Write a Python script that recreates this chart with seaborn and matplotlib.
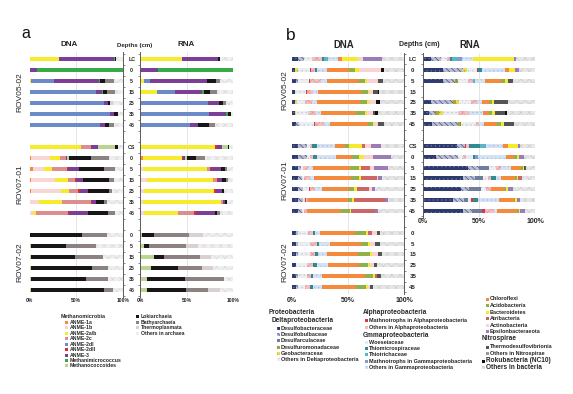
import matplotlib
matplotlib.use('Agg')
import matplotlib.pyplot as plt
from matplotlib.patches import Rectangle
import pandas as pd
import seaborn as sns

sns.set_style('white')
plt.rcParams['font.family'] = ['Liberation Sans', 'DejaVu Sans']
plt.rcParams['hatch.linewidth'] = 0.4

W, H = 573, 394

# ---------------- categories ----------------
arch_codes = ['A1a', 'A1b', 'A2ab', 'A2c', 'A2dI', 'A2dII', 'A3', 'MMC', 'MCC',
              'LOK', 'BAT', 'THP', 'OAR']
arch_names = ['ANME-1a', 'ANME-1b', 'ANME-2a/b', 'ANME-2c', 'ANME-2dI', 'ANME-2dII',
              'ANME-3', 'Methanimicrococcus', 'Methanococcoides', 'Lokiarchaeia',
              'Bathyarchaeia', 'Thermoplasmata', 'Others in archaea']

bact_codes = ['DBA', 'DBU', 'DAR', 'DUR', 'GEO', 'ODE', 'MAL', 'OAL', 'WOE', 'TMS',
              'TTR', 'MGA', 'OGA', 'CHL', 'ACI', 'BAC', 'ATR', 'ACT', 'EPS', 'THD',
              'ONI', 'ROK', 'OBA']
bact_names = ['Desulfobacteraceae', 'Desulfobulbaceae', 'Desulfarculaceae',
              'Desulfuromonadaceae', 'Geobacteraceae', 'Others in Deltaproteobacteria',
              'Mathnotrophs in Alphaproteobacteria', 'Others in Alphaproteobacteria',
              'Woeseiaceae', 'Thiomicrospiraceae', 'Thiotrichaceae',
              'Mathnotrophs in Gammaproteobacteria', 'Others in Gammaproteobacteria',
              'Chloroflexi', 'Acidobacteria', 'Bacteroidetes', 'Atribacteria',
              'Actinobacteria', 'Epsilonbacteraeota', 'Thermodesulfovibrionia',
              'Others in Nitrospirae', 'Rokubacteria (NC10)', 'Others in bacteria']

depth_rov0502 = ['LC', '0', '5', '15', '25', '35', '45']
depth_rov0701 = ['CS', '0', '5', '15', '25', '35', '45']
depth_rov0702 = ['0', '5', '15', '25', '35', '45']
site_labels = ['ROV05-02', 'ROV07-01', 'ROV07-02']
x_ticks = [0, 50, 100]
x_ticklabels = ['0%', '50%', '100%']

# ---------------- panel a: archaea (%) ----------------
arch_dna_rov0502 = [
    dict(A2ab=32, A3=58.5, MMC=0.5, LOK=1.5, OAR=7.5),
    dict(A3=8, MMC=92),
    dict(A2ab=1.5, A2dI=25, A3=48, MMC=1, LOK=5.5, BAT=9, OAR=10),
    dict(A2dI=71, A3=6.5, MMC=1, LOK=4, BAT=9, OAR=8.5),
    dict(A2dI=80, A3=3.5, LOK=3, THP=3, OAR=10.5),
    dict(A2dI=86, A3=4, LOK=4.5, OAR=5.5),
    dict(A2dI=75, A3=6, LOK=4, BAT=5, OAR=10),
]
arch_dna_rov0701 = [
    dict(A2ab=55, A2c=10.5, A3=8, MCC=18, LOK=3.5, OAR=5),
    dict(A1a=1.5, A1b=20.5, A2ab=10.5, A2c=6.5, A3=1.5, MCC=1.5, LOK=24, BAT=18.5, OAR=15.5),
    dict(A1a=3.5, A1b=11.5, A2ab=9, A2c=16, A2dII=1.5, A3=11.5, LOK=26.5, BAT=11.5, OAR=9),
    dict(A1a=1.5, A1b=26, A2ab=13.5, A2c=8, A2dII=1, A3=7, LOK=28, BAT=5.5, OAR=9.5),
    dict(A1a=1.5, A1b=32, A2ab=8.5, A2c=10, A2dII=1.5, A3=9, LOK=22, BAT=4, OAR=11.5),
    dict(A1b=10.5, A2ab=24, A2c=31, A2dII=1.5, A3=4.5, LOK=8, BAT=3, OAR=17.5),
    dict(A1b=3.5, A2ab=3.5, A2c=34, A2dII=1.5, A3=20, LOK=21.5, BAT=7, OAR=9),
]
arch_dna_rov0702 = [
    dict(LOK=56, BAT=26.5, OAR=17.5),
    dict(MCC=1.5, LOK=38, BAT=32, OAR=28.5),
    dict(MCC=1.5, LOK=47, BAT=30, OAR=21.5),
    dict(MCC=1.5, LOK=65, BAT=17, OAR=16.5),
    dict(MCC=1.5, LOK=59, BAT=23, OAR=16.5),
    dict(MCC=1.5, LOK=78.5, BAT=9, OAR=11),
]
arch_rna_rov0502 = [
    dict(A2ab=44.5, A3=39, LOK=2, OAR=14.5),
    dict(A3=19.5, MMC=80.5),
    dict(A2ab=4.5, A2dI=6, A3=61.5, LOK=9, BAT=5, OAR=14),
    dict(A2ab=18.5, A2dI=19, A3=28.5, MMC=2.5, LOK=7, BAT=6.5, OAR=18),
    dict(A2dI=73, A3=12, LOK=3.5, BAT=3.5, OAR=8),
    dict(A2dI=74, A3=18, MMC=2.5, LOK=2.5, OAR=3),
    dict(A2dI=53.5, A3=9, LOK=11, BAT=6.5, OAR=20),
]
arch_rna_rov0701 = [
    dict(A2ab=80, A2dII=2, A3=6, MCC=6.5, LOK=1, OAR=4.5),
    dict(A1a=3.5, A2ab=41, A2dII=2, A3=2, MCC=1.5, LOK=10.5, BAT=9.5, OAR=30),
    dict(A1b=3, A2ab=69, A2c=3, A2dII=1, A3=10.5, LOK=4.5, BAT=2, OAR=7),
    dict(A1a=1.5, A1b=5.5, A2ab=71.5, A2c=3.5, A2dII=1.5, A3=4.5, LOK=4.5, BAT=1.5, OAR=6),
    dict(A1b=4, A2ab=75, A2dII=2, A3=6.5, LOK=2.5, OAR=10),
    dict(A1b=3.5, A2ab=83, A2c=2, A3=2.5, LOK=2, OAR=7),
    dict(A1b=4, A2ab=37, A2c=17, A2dII=2.5, A3=19.5, LOK=2.5, BAT=3, OAR=14.5),
]
arch_rna_rov0702 = [
    dict(MCC=2, LOK=13, BAT=38, THP=15, OAR=32),
    dict(MCC=4.5, LOK=5.5, BAT=39, THP=13, OAR=38),
    dict(MCC=15, LOK=10.5, BAT=39, THP=12, OAR=23.5),
    dict(MCC=11.5, LOK=29, BAT=25.5, THP=12.5, OAR=21.5),
    dict(MCC=7, LOK=41, BAT=42, OAR=10),
    dict(MCC=8, LOK=41, BAT=24, THP=12.5, OAR=14.5),
]

# ---------------- panel b: bacteria (%) ----------------
bact_dna_rov0502 = [
    dict(DBA=5, DBU=6, ODE=6.5, OAL=9, TMS=2.5, TTR=3, OGA=9.5, CHL=3.5, BAC=14, ACT=4.5, EPS=16.5, OBA=20),
    dict(DBA=3, GEO=2, ODE=11, MAL=1, OAL=3.5, TMS=2, OGA=9, CHL=19, ACI=6, BAC=3, ACT=20, ROK=3, OBA=17.5),
    dict(DBA=3.5, DBU=2, ODE=10, MAL=1, OAL=9, OGA=6, CHL=28, ACI=6, BAC=1.5, ACT=10, THD=4, OBA=19),
    dict(DBA=2.5, ODE=10, MAL=1, OAL=5, OGA=4.5, CHL=39, ACI=6, BAC=1, ACT=3, THD=4.5, ROK=1.5, OBA=22),
    dict(DBA=3, GEO=1.5, ODE=7, OAL=6, OGA=4.5, CHL=39, ACI=6, BAC=1.5, ACT=6.5, ROK=4, OBA=21),
    dict(DBA=2.5, GEO=1.5, ODE=10, OAL=7, OGA=4.5, CHL=32, ACI=8, BAC=1.5, ACT=5, THD=2, ROK=3, OBA=23),
    dict(DBA=4, DBU=2, ODE=13.5, MAL=1, OAL=8.5, OGA=4.5, CHL=34, ACI=4.5, BAC=1.5, ACT=3, THD=6, OBA=17.5),
]
bact_dna_rov0701 = [
    dict(DBA=5, DBU=8, ODE=3, OAL=1.5, TMS=4.5, OGA=16, CHL=9.5, ACI=3, BAC=12, ATR=2.5, ACT=5.5, EPS=9, OBA=20.5),
    dict(DBA=5, DBU=8, ODE=3, OAL=3, TMS=3, OGA=17, CHL=15, ACI=6, BAC=4.5, ACT=7.5, EPS=16, OBA=12),
    dict(DBA=5, DBU=3, ODE=2, OAL=4.5, OGA=4.5, CHL=33, ACI=8, BAC=2, ATR=8, ACT=3, EPS=13, OBA=14),
    dict(DBA=5, DBU=3.5, ODE=2.5, OAL=5, OGA=4, CHL=33, ACI=6.5, BAC=2, ATR=14, ACT=1.5, EPS=3, OBA=20),
    dict(DBA=5, DBU=5, ODE=5, MAL=1, OAL=4.5, OGA=6, CHL=24, ACI=4.5, BAC=3, ATR=11, ACT=2, EPS=3, OBA=26),
    dict(DBA=5, DBU=5, ODE=1.5, MAL=1, OAL=1.5, CHL=36, ACI=3.5, BAC=1.5, ATR=28, EPS=2.5, OBA=14.5),
    dict(DBA=5, DBU=3.5, ODE=2.5, OAL=2, CHL=31, ACI=7.5, BAC=1.5, ATR=21, EPS=2.5, OBA=23.5),
]
bact_dna_rov0702 = [
    dict(DBA=4, DBU=1, ODE=9.5, OAL=4.5, TMS=1.5, OGA=4.5, CHL=31, ACI=10, BAC=2, ATR=3.5, ACT=4.5, THD=3, OBA=21),
    dict(DBA=4, DBU=1.5, ODE=11, OAL=6, TMS=1.5, OGA=9.5, CHL=28, ACI=6.5, BAC=1.5, ACT=5, THD=4, OBA=21.5),
    dict(DBA=4, DBU=1.5, ODE=10.5, OAL=4.5, TMS=2.5, OGA=8, CHL=28, ACI=10.5, BAC=1.5, ACT=6, THD=3, OBA=20),
    dict(DBA=4, ODE=9, OAL=6, TMS=3, OGA=10, CHL=28, ACI=8, BAC=1.5, ACT=3.5, THD=3, OBA=24),
    dict(DBA=4, DBU=1.5, ODE=7.5, OAL=4, TMS=2, OGA=7.5, CHL=39, ACI=7, BAC=1.5, ATR=1.5, THD=4, OBA=20.5),
    dict(DBA=4, DBU=1.5, ODE=6, OAL=4.5, TMS=3, OGA=7.5, CHL=31, ACI=9, BAC=1.5, ACT=1.5, THD=3, OBA=27.5),
]
bact_rna_rov0502 = [
    dict(DBA=7.5, DBU=9, ODE=4.5, OAL=3, TMS=2, TTR=4, MGA=4.5, OGA=10, BAC=37, EPS=1.5, OBA=17),
    dict(DBA=18, DBU=18, GEO=3, ODE=9, MAL=1.5, TMS=3, OGA=21, CHL=3, BAC=6, EPS=3, OBA=14.5),
    dict(DBA=18, DBU=11, DUR=2, ODE=9, OAL=4.5, TTR=1.5, OGA=9, CHL=15, ACI=3, BAC=2.5, THD=5, OBA=19.5),
    None,
    dict(DBA=7.5, DBU=19, DUR=3, GEO=3, ODE=10, OAL=6, OGA=4, CHL=6.5, ACI=3, BAC=1.5, THD=12, OBA=24.5),
    dict(DBA=5.5, DBU=5, DUR=4, GEO=3.5, ODE=13, OAL=10, OGA=13, CHL=4.5, ACI=3, BAC=3, THD=9, ROK=1.5, OBA=25),
    dict(DBA=8, DBU=23, DUR=3, ODE=13, OAL=3, OGA=4.5, CHL=12, ACI=3, BAC=3, THD=9, OBA=18.5),
]
bact_rna_rov0701 = [
    dict(DBA=30, DBU=7.5, MAL=1, OAL=3, TMS=9, TTR=6, OGA=15, CHL=4.5, BAC=9, EPS=1.5, OBA=13.5),
    dict(DBA=12, DBU=19, ODE=4.5, OAL=3, WOE=6, TMS=1.5, MGA=3, OGA=25, CHL=7.5, ACI=2.5, BAC=2, EPS=4.5, OBA=9.5),
    dict(DBA=40, DBU=10, DAR=9, ODE=6.5, OAL=4, OGA=9, CHL=9, ACI=1.5, BAC=1.5, THD=1.5, OBA=8),
    dict(DBA=36, DBU=10, DAR=7.5, ODE=4.5, OAL=3, TMS=4.5, OGA=4, CHL=12.5, ACI=1.5, BAC=1.5, ATR=3, OBA=12),
    dict(DBA=34, DBU=7.5, DAR=10, ODE=4.5, OAL=4.5, CHL=12, ACI=2, BAC=1.5, EPS=4, OBA=20),
    dict(DBA=27, DBU=10, DAR=3, ODE=3, MAL=2, TMS=4, OGA=19, CHL=13, ACI=1.5, BAC=1.5, EPS=3, OBA=13),
    dict(DBA=36, DBU=7.5, DAR=9, MAL=3, OAL=7.5, OGA=3, CHL=18, ACI=1.5, BAC=1.5, EPS=4.5, OBA=8.5),
]

# ---------------- styles: (face, hatch, hatch colour) ----------------
arch_styles = {
    'A1a': ('#f48a3a', None, None), 'A1b': ('#f9d6d3', None, None),
    'A2ab': ('#f6ec2c', None, None), 'A2c': ('#dc8d8d', None, None),
    'A2dI': ('#6a8bc8', None, None), 'A2dII': ('#e32b2e', None, None),
    'A3': ('#7b3f98', None, None), 'MMC': ('#38aa48', None, None),
    'MCC': ('#bad591', None, None), 'LOK': ('#171515', None, None),
    'BAT': ('#8c8282', None, None), 'THP': ('#d9d1d1', None, None),
    'OAR': ('#efefef', 'xxxx', '#d6d6d6'),
}
bact_styles = {
    'DBA': ('#2d3a6e', '....', '#6c7aa8'), 'DBU': ('#b9bed3', '\\\\\\\\\\\\', '#2d3a6e'),
    'DAR': ('#6f7d9e', None, None), 'DUR': ('#a9a63a', '||||', '#6d8a2a'),
    'GEO': ('#e9dc4e', '....', '#b3a31c'), 'ODE': ('#eceef2', '....', '#c3c8d4'),
    'MAL': ('#d9363e', None, None), 'OAL': ('#f2c0c0', 'xxxx', '#dd8f8f'),
    'WOE': ('#e2ecf7', None, None), 'TMS': ('#2f8b8f', None, None),
    'TTR': ('#5ab6c6', None, None), 'MGA': ('#7d9bd6', None, None),
    'OGA': ('#d4e2f4', '....', '#a6bee3'), 'CHL': ('#f58a3d', None, None),
    'ACI': ('#8fb04d', None, None), 'BAC': ('#f6ea2b', None, None),
    'ATR': ('#cd6566', None, None), 'ACT': ('#f9d3d3', None, None),
    'EPS': ('#9a7db8', None, None), 'THD': ('#545454', None, None),
    'ONI': ('#9a9a9a', None, None), 'ROK': ('#111111', None, None),
    'OBA': ('#e6e6e6', 'xxxx', '#cbcbcb'),
}

GROUP_START = [0, 8, 16]
TXT = '#262626'


def to_frame(groups, codes):
    recs = []
    for start, rows in zip(GROUP_START, groups):
        for i, r in enumerate(rows):
            if r is None:
                continue
            rec = {c: float(r.get(c, 0.0)) for c in codes}
            rec['pos'] = start + i
            recs.append(rec)
    return pd.DataFrame(recs)


def draw_stack(ax, df, codes, styles, width):
    cum = df[codes].cumsum(axis=1)
    for c in reversed(codes):
        fc, hatch, hc = styles[c]
        kw = dict(x=cum[c].values, y=df['pos'].values, orient='y', native_scale=True,
                  width=width, color=fc, saturation=1, errorbar=None, linewidth=0,
                  ax=ax, zorder=2)
        if hatch:
            kw.update(hatch=hatch, edgecolor=hc)
        sns.barplot(**kw)


def fx(px):
    return px / W


def fy(py):
    return 1 - py / H


fig = plt.figure(figsize=(W / 100, H / 100), dpi=100)
fig.patch.set_facecolor('white')


def add_ax(l, r, t, b):
    return fig.add_axes([fx(l), fy(b), (r - l) / W, (b - t) / H])


def base_style(ax, nmax, side, xfs, xpad, depth_fs=None, depth_pad=None):
    ax.set_xlabel('')
    ax.set_ylabel('')
    ax.set_xlim(0, 100)
    ax.set_ylim(nmax + 0.6, -0.6)
    for s in ax.spines.values():
        s.set_visible(False)
    ax.spines[side].set_visible(True)
    ax.spines[side].set_color('#5a5a5a')
    ax.spines[side].set_linewidth(0.7)
    for v in (50, 100):
        ax.axvline(v, color='#dadada', lw=0.5, zorder=0)
    ax.set_xticks(x_ticks, x_ticklabels)
    ax.tick_params(axis='x', length=0, pad=xpad, labelsize=xfs, colors=TXT)
    for t in ax.get_xticklabels():
        t.set_fontweight('bold')
    minor = [i + 0.5 for i in range(-1, nmax + 1)]
    ax.set_yticks(minor, minor=True)
    if side == 'right':
        ax.yaxis.set_ticks_position('right')
        pos, labs = [], []
        for start, d in zip(GROUP_START, [depth_rov0502, depth_rov0701, depth_rov0702]):
            for i, lab in enumerate(d):
                pos.append(start + i)
                labs.append(lab)
        ax.set_yticks(pos, labs)
        ax.tick_params(axis='y', which='major', length=0, pad=depth_pad,
                       labelsize=depth_fs, labelright=True, labelleft=False, colors=TXT)
        for t in ax.get_yticklabels():
            t.set_ha('center')
            t.set_fontweight('bold')
        ax.tick_params(axis='y', which='minor', length=1.6, width=0.5, color='#5a5a5a',
                       direction='out', right=True, left=False)
    else:
        ax.set_yticks([])
        ax.set_yticks(minor, minor=True)
        ax.tick_params(axis='y', which='minor', length=1.6, width=0.5, color='#5a5a5a',
                       direction='out', left=True, right=False, labelleft=False)
    ax.grid(False)


# ---------------- panel a ----------------
axA_d = add_ax(29.5, 123, 52.4, 296.6)
axA_r = add_ax(140, 233.3, 52.4, 296.6)
df = to_frame([arch_dna_rov0502, arch_dna_rov0701, arch_dna_rov0702], arch_codes)
draw_stack(axA_d, df, arch_codes, arch_styles, 0.4)
df = to_frame([arch_rna_rov0502, arch_rna_rov0701, arch_rna_rov0702], arch_codes)
draw_stack(axA_r, df, arch_codes, arch_styles, 0.4)
base_style(axA_d, 21, 'right', 3.6, 0.8, depth_fs=3.8, depth_pad=6.3)
base_style(axA_r, 21, 'left', 3.6, 0.8)

# ---------------- panel b ----------------
axB_d = add_ax(292, 404, 52.5, 293.5)
axB_r = add_ax(423, 535, 52.5, 217.5)
df = to_frame([bact_dna_rov0502, bact_dna_rov0701, bact_dna_rov0702], bact_codes)
draw_stack(axB_d, df, bact_codes, bact_styles, 0.38)
df = to_frame([bact_rna_rov0502, bact_rna_rov0701], bact_codes)
draw_stack(axB_r, df, bact_codes, bact_styles, 0.38)
base_style(axB_d, 21, 'right', 5.0, 2.6, depth_fs=4.4, depth_pad=6.3)
base_style(axB_r, 14, 'left', 5.0, 0.6)

# ---------------- headings ----------------
fig.text(fx(26), fy(38.5), 'a', fontsize=11.5, ha='center', va='baseline', color='#111')
fig.text(fx(291), fy(39.5), 'b', fontsize=12.5, ha='center', va='baseline', color='#111')
fig.text(fx(69), fy(45), 'DNA', fontsize=5.8, fontweight='bold', ha='center', va='center', color=TXT)
fig.text(fx(186), fy(45), 'RNA', fontsize=5.8, fontweight='bold', ha='center', va='center', color=TXT)
fig.text(fx(135), fy(45), 'Depths (cm)', fontsize=4.4, fontweight='bold', ha='center', va='center', color=TXT)
fig.text(fx(344), fy(45), 'DNA', fontsize=6.9, fontweight='bold', ha='center', va='center', color=TXT)
fig.text(fx(470), fy(45), 'RNA', fontsize=6.9, fontweight='bold', ha='center', va='center', color=TXT)
fig.text(fx(419), fy(45), 'Depths (cm)', fontsize=5.0, fontweight='bold', ha='center', va='center', color=TXT)

for xg, ys in ((20, (92, 184, 262)), (284.5, (90, 180, 262))):
    for lab, yy in zip(site_labels, ys):
        fig.text(fx(xg), fy(yy), lab, fontsize=6.0, rotation=90, ha='center', va='center', color=TXT)


# ---------------- legends ----------------
def legend_item(x, y, text, style, fs, sq=3.0, gap=1.3):
    fc, hatch, hc = style
    r = Rectangle((fx(x), fy(y + sq / 2)), sq / W, sq / H, transform=fig.transFigure,
                  facecolor=fc, hatch=hatch, edgecolor=hc if hatch else 'none', linewidth=0)
    fig.add_artist(r)
    fig.text(fx(x + sq + gap), fy(y), text, fontsize=fs, fontweight='bold',
             ha='left', va='center', color=TXT)


def header(x, y, text, fs):
    fig.text(fx(x), fy(y), text, fontsize=fs, fontweight='bold', ha='left', va='center', color=TXT)


# panel a
header(61, 316, 'Methanomicrobia', 3.9)
for k in range(9):
    legend_item(65.3, 322.3 + 5.46 * k, arch_names[k], arch_styles[arch_codes[k]], 3.7)
for k in range(4):
    legend_item(136.3, 316.7 + 5.46 * k, arch_names[9 + k], arch_styles[arch_codes[9 + k]], 3.7)

# panel b, column 1
header(269, 312.7, 'Proteobacteria', 4.7)
header(271.5, 321, 'Deltaproteobacteria', 4.7)
for k, yy in enumerate([328.3, 334.5, 340.8, 347.1, 353.4, 359.7]):
    legend_item(276.5, yy, bact_names[k], bact_styles[bact_codes[k]], 4.0)
# column 2
header(362.7, 312.7, 'Alphaproteobacteria', 4.7)
for k, yy in zip([6, 7], [320.7, 327.0]):
    legend_item(364.5, yy, bact_names[k], bact_styles[bact_codes[k]], 4.0)
header(362.7, 335.7, 'Gmmaproteobacteria', 4.7)
for k, yy in zip([8, 9, 10, 11, 12], [342.0, 348.4, 354.8, 361.2, 367.6]):
    legend_item(364.5, yy, bact_names[k], bact_styles[bact_codes[k]], 4.0)
# column 3
for k, yy in zip(range(13, 19), [299.0, 305.5, 312.0, 318.6, 325.2, 331.7]):
    legend_item(485.5, yy, bact_names[k], bact_styles[bact_codes[k]], 4.0)
header(482, 339, 'Nitrospirae', 4.7)
for k, yy in zip([19, 20], [347.0, 353.6]):
    legend_item(485.5, yy, bact_names[k], bact_styles[bact_codes[k]], 4.0)
for k, yy in zip([21, 22], [361.0, 367.4]):
    legend_item(481.5, yy, bact_names[k], bact_styles[bact_codes[k]], 4.7)

fig.savefig('out.png', dpi=100, facecolor='white')
